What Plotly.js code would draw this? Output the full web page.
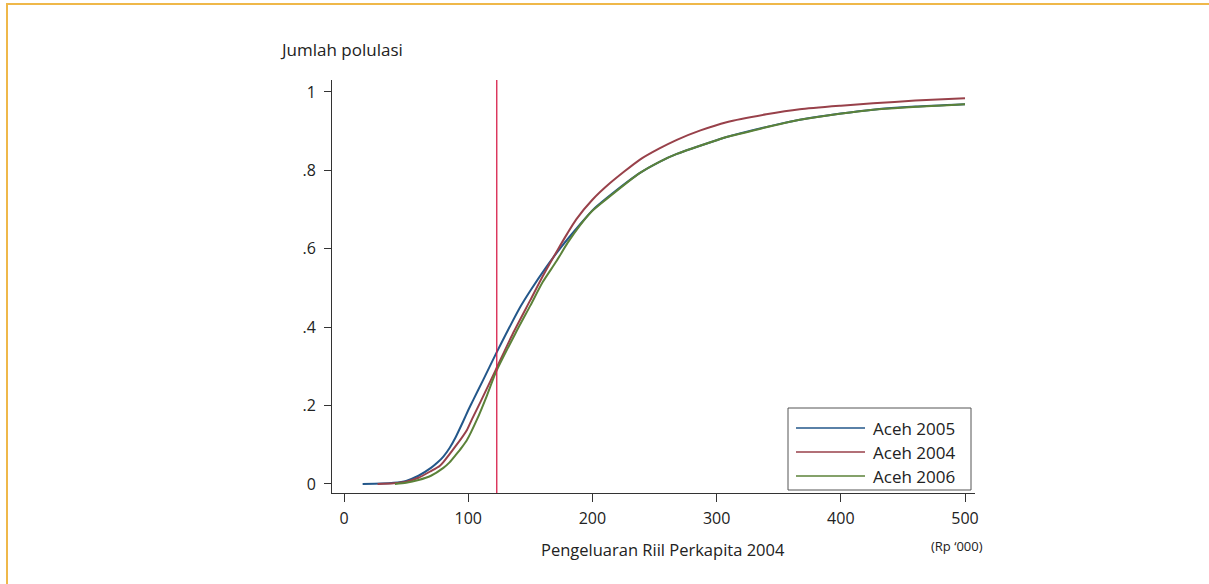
<!DOCTYPE html>
<html>
<head>
<meta charset="utf-8">
<script src="https://cdn.plot.ly/plotly-3.0.1.min.js"></script>
<style>
  html, body { margin: 0; padding: 0; background: #fff; }
  #chart { width: 1209px; height: 584px; }
  #frame { position: absolute; left: 6px; top: 3px; width: 1220px; height: 600px;
           border-top: 2px solid #efb84a; border-left: 2px solid #efb84a;
           pointer-events: none; }
</style>
</head>
<body>
<div id="chart"></div>
<div id="frame"></div>
<script>
// ---- data ----
const seriesNames = ["Aceh 2005", "Aceh 2004", "Aceh 2006"];
const seriesColors = ["#23578a", "#98414a", "#5b8239"];

const x2005 = [15, 30, 40, 50, 60, 70, 75, 80, 85, 90, 96, 100, 104, 112, 122, 130, 142, 150, 163, 175, 190, 200, 211, 238, 254, 268, 300, 308, 350, 367, 400, 426, 460, 500];
const y2005 = [0, 0.001, 0.003, 0.008, 0.021, 0.041, 0.054, 0.07, 0.092, 0.12, 0.16, 0.188, 0.214, 0.265, 0.33, 0.38, 0.452, 0.493, 0.554, 0.605, 0.662, 0.698, 0.728, 0.793, 0.822, 0.842, 0.877, 0.885, 0.918, 0.929, 0.945, 0.955, 0.963, 0.969];

const x2004 = [27, 40, 50, 60, 70, 77, 80, 90, 99, 103, 110, 122, 136, 150, 160, 172, 180, 187, 200, 214, 238, 254, 268, 287, 308, 340, 367, 400, 426, 460, 500];
const y2004 = [0, 0.002, 0.006, 0.016, 0.033, 0.046, 0.056, 0.097, 0.138, 0.165, 0.21, 0.29, 0.384, 0.469, 0.53, 0.597, 0.64, 0.675, 0.725, 0.767, 0.827, 0.856, 0.878, 0.902, 0.923, 0.943, 0.956, 0.965, 0.971, 0.978, 0.984];

const x2006 = [41, 50, 60, 70, 80, 85, 90, 95, 99, 107, 115, 122, 138, 150, 160, 171, 180, 190, 200, 211, 238, 254, 268, 300, 308, 367, 426, 500];
const y2006 = [0, 0.003, 0.01, 0.021, 0.041, 0.055, 0.074, 0.094, 0.112, 0.164, 0.225, 0.283, 0.384, 0.455, 0.515, 0.568, 0.615, 0.66, 0.697, 0.726, 0.793, 0.822, 0.842, 0.877, 0.885, 0.929, 0.955, 0.969];

const povertyLine = 123;

const xTickVals = [0, 100, 200, 300, 400, 500];
const xTickText = ["0", "100", "200", "300", "400", "500"];
const yTickVals = [0, 0.2, 0.4, 0.6, 0.8, 1];
const yTickText = ["0", ".2", ".4", ".6", ".8", "1"];

const yTitle = "Jumlah polulasi";
const xTitle = "Pengeluaran Riil Perkapita 2004";
const unitText = "(Rp \u2018000)";

// ---- build ----
const FONT = "Open Sans, Noto Sans, sans-serif";
const xs = [x2005, x2004, x2006];
const ys = [y2005, y2004, y2006];
const traces = xs.map((xv, i) => ({
  x: xv, y: ys[i], type: "scatter", mode: "lines",
  name: seriesNames[i], line: { color: seriesColors[i], width: 2, shape: "spline", smoothing: 0.6 },
  showlegend: false, hoverinfo: "x+y+name"
}));
traces.push({
  x: [povertyLine, povertyLine], y: [-0.023, 1.0306], type: "scatter", mode: "lines",
  line: { color: "#d71f4b", width: 1.3 }, showlegend: false, hoverinfo: "x"
});

// custom legend (paper coords): box and sample lines
const L = 332, R = 975, T = 80, B = 493;
const px = v => (v - L) / (R - L);
const py = v => (B - v) / (B - T);
const shapes = [{
  type: "rect", xref: "paper", yref: "paper",
  x0: px(788), x1: px(971), y0: py(490), y1: py(408),
  line: { color: "#555", width: 1 }, fillcolor: "rgba(255,255,255,0)"
}];
const annotations = [];
const rows = [428, 452, 476];
seriesNames.forEach((n, i) => {
  shapes.push({ type: "line", xref: "paper", yref: "paper",
    x0: px(796), x1: px(865), y0: py(rows[i]), y1: py(rows[i]),
    line: { color: seriesColors[i], width: 1.5 } });
  annotations.push({ xref: "paper", yref: "paper", x: px(871), y: py(rows[i]),
    xanchor: "left", yanchor: "middle", showarrow: false, text: n,
    font: { family: FONT, size: 17, color: "#222" } });
});
annotations.push({ xref: "paper", yref: "paper", x: px(278), y: py(50),
  xanchor: "left", yanchor: "middle", showarrow: false, text: yTitle,
  font: { family: FONT, size: 17, color: "#222" } });
annotations.push({ xref: "paper", yref: "paper", x: px(663), y: py(549),
  xanchor: "center", yanchor: "middle", showarrow: false, text: xTitle,
  font: { family: FONT, size: 16.5, color: "#222" } });
annotations.push({ xref: "paper", yref: "paper", x: px(985), y: py(546),
  xanchor: "right", yanchor: "middle", showarrow: false, text: unitText,
  font: { family: FONT, size: 13, color: "#222" } });

const layout = {
  width: 1209, height: 584,
  margin: { l: L, r: 1209 - R, t: T, b: 584 - B, pad: 0 },
  paper_bgcolor: "#fff", plot_bgcolor: "#fff",
  font: { family: FONT, size: 16, color: "#222" },
  showlegend: false,
  xaxis: {
    range: [-9.66, 508.05], showgrid: false, zeroline: false,
    showline: true, linecolor: "#333", linewidth: 1,
    ticks: "outside", ticklen: 8, tickcolor: "#333", tickwidth: 1,
    tickmode: "array", tickvals: xTickVals, ticktext: xTickText,
    ticklabelstandoff: 3, tickfont: { family: FONT, size: 16, color: "#222" }
  },
  yaxis: {
    range: [-0.023, 1.0306], showgrid: false, zeroline: false,
    showline: true, linecolor: "#333", linewidth: 1,
    ticks: "outside", ticklen: 7, tickcolor: "#333", tickwidth: 1,
    tickmode: "array", tickvals: yTickVals, ticktext: yTickText,
    ticklabelstandoff: 5, tickfont: { family: FONT, size: 16, color: "#222" }
  },
  shapes: shapes,
  annotations: annotations
};

Plotly.newPlot("chart", traces, layout, { displayModeBar: false, staticPlot: true });
</script>
</body>
</html>
